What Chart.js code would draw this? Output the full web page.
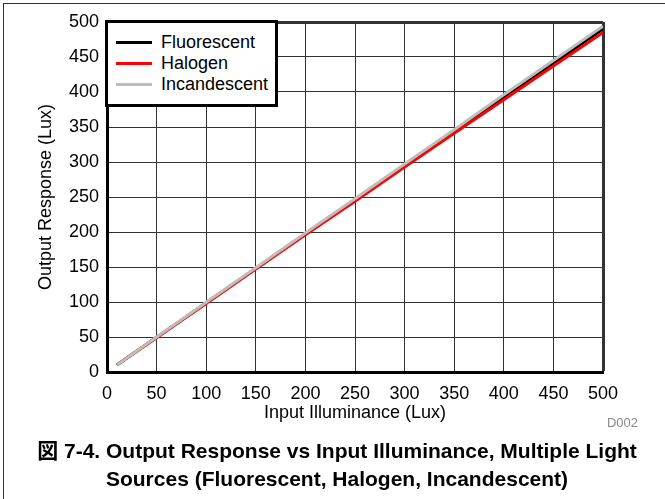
<!DOCTYPE html>
<html>
<head>
<meta charset="utf-8">
<script src="https://cdn.jsdelivr.net/npm/chart.js@4.4.0/dist/chart.umd.min.js"></script>
<style>
  body { margin: 0; background: #fff; font-family: "Liberation Sans", Arial, "Noto Sans CJK JP", sans-serif; }
  #page { position: relative; width: 665px; height: 499px; overflow: hidden; }
  #frame { position: absolute; left: 3px; top: 3px; right: -2px; bottom: -2px; border-top: 1px solid #333; border-left: 1px solid #333; }
  #chart { position: absolute; left: 0; top: 0; }
  #legend { position: absolute; left: 105px; top: 20px; width: 173px; height: 87px; box-sizing: border-box;
            border: 3px solid #000; background: #fff; padding-top: 9px; z-index: 2; }
  .row { height: 21px; display: flex; align-items: center; font-size: 18px; color: #000; }
  .swatch { width: 36px; height: 3px; margin-left: 8px; margin-right: 9px; }
  #code { position: absolute; right: 27px; top: 415px; font-size: 13px; color: #8a8a8a; }
  #caption { position: absolute; left: 10px; width: 654px; top: 437px; text-align: center;
             font-size: 21px; font-weight: bold; line-height: 28px; color: #000; }
</style>
</head>
<body>
<div id="page">
  <div id="frame"></div>
  <canvas id="chart" width="665" height="499"></canvas>
  <div id="legend"></div>
  <div id="code">D002</div>
  <div id="caption">図 7-4. Output Response vs Input Illuminance, Multiple Light<br>Sources (Fluorescent, Halogen, Incandescent)</div>
</div>
<script>
var inputLux = [10, 25, 50, 75, 100, 150, 200, 250, 300, 350, 400, 450, 500];
var fluorescent = [10, 25, 49.5, 74, 99, 148, 197, 246, 295, 344, 393, 441, 490];
var halogen = [10, 24.5, 49, 73.5, 98, 147, 196, 244, 293, 341, 389, 437, 485];
var incandescent = [10, 25, 50, 74.5, 99.5, 149, 198.5, 247.5, 297, 346, 396, 445, 494];
var seriesNames = ['Fluorescent', 'Halogen', 'Incandescent'];
var seriesColors = ['#000000', '#ff0000', '#bdbdbd'];
var tickValues = [0, 50, 100, 150, 200, 250, 300, 350, 400, 450, 500];

function points(ys) {
    return inputLux.map(function (x, i) { return { x: x, y: ys[i] }; });
}

var allSeries = [fluorescent, halogen, incandescent];
var datasets = allSeries.map(function (ys, i) {
    return {
        label: seriesNames[i],
        data: points(ys),
        borderColor: seriesColors[i],
        backgroundColor: seriesColors[i],
        borderWidth: 3,
        pointRadius: 0,
        tension: 0,
        order: 3 - i
    };
});

// legend box sits inside the plot, top left
var legend = document.getElementById('legend');
seriesNames.forEach(function (name, i) {
    var row = document.createElement('div');
    row.className = 'row';
    row.innerHTML = '<span class="swatch" style="background:' + seriesColors[i] + '"></span>' + name;
    legend.appendChild(row);
});

var tickFont = { family: '"Liberation Sans", Arial, sans-serif', size: 18 };

function edgeWidth(ctx) {
    return ctx.index === tickValues.length - 1 ? 3 : 1;
}

function axis(title, pos) {
    return {
        type: 'linear',
        position: pos,
        min: tickValues[0],
        max: tickValues[tickValues.length - 1],
        afterBuildTicks: function (scale) {
            scale.ticks = tickValues.map(function (v) { return { value: v }; });
        },
        afterFit: function (scale) {
            if (pos === 'left') scale.width = 72;
            else scale.height = 52;
        },
        ticks: { color: '#000', font: tickFont, padding: pos === 'left' ? 8 : 11, maxRotation: 0 },
        grid: { color: '#333', lineWidth: edgeWidth, drawTicks: false },
        border: { color: '#000', width: 3 },
        title: { display: true, text: title, color: '#000', font: tickFont, padding: 0 }
    };
}

var config = {
    type: 'line',
    data: { datasets: datasets },
    options: {
        responsive: false,
        animation: false,
        layout: { padding: { left: 35, top: 22, right: 62, bottom: 75 } },
        plugins: { legend: { display: false }, tooltip: { enabled: false } },
        scales: {
            x: axis('Input Illuminance (Lux)', 'bottom'),
            y: axis('Output Response (Lux)', 'left')
        }
    }
};

var chart = new Chart(document.getElementById('chart'), config);
console.log(JSON.stringify(chart.chartArea));
</script>
</body>
</html>
